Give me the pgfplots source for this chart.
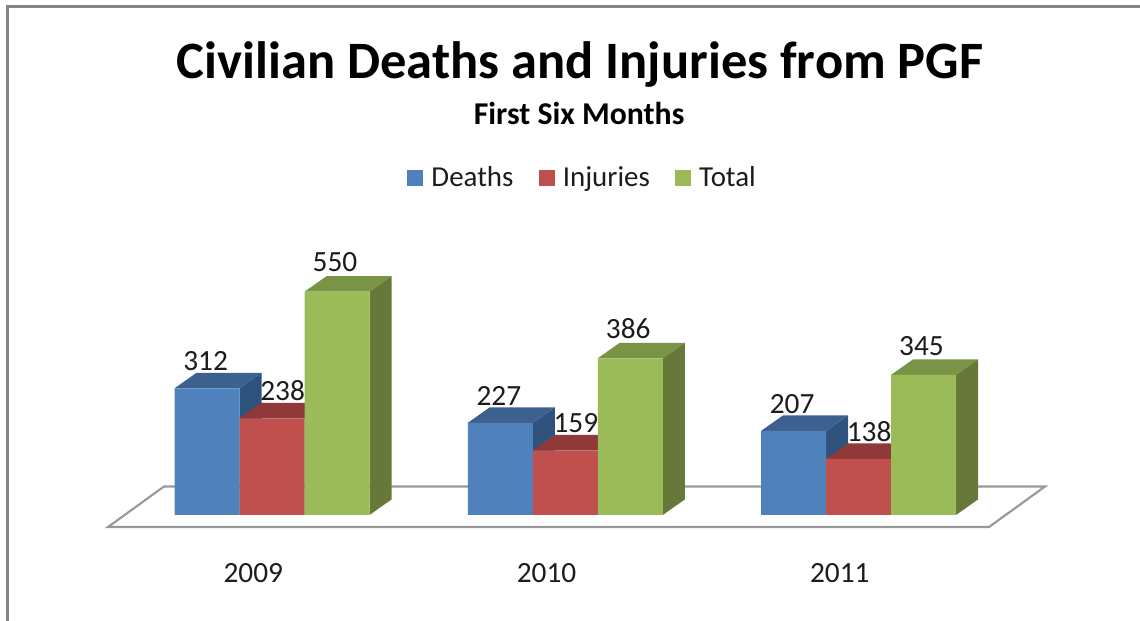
\documentclass[border=0pt]{standalone}
\usepackage{pgfplots}
\usepackage{pgfplotstable}
\usepackage{fontspec}
\setmainfont{Carlito}
\pgfplotsset{compat=1.18}
\definecolor{dfront}{HTML}{4F81BD}\definecolor{dtop}{HTML}{3C618F}\definecolor{dside}{HTML}{30537E}
\definecolor{ifront}{HTML}{C0504D}\definecolor{itop}{HTML}{8F3A38}\definecolor{iside}{HTML}{7F3331}
\definecolor{tfront}{HTML}{9BBB59}\definecolor{ttop}{HTML}{7A9446}\definecolor{tside}{HTML}{66783A}
\definecolor{framegray}{HTML}{858585}\definecolor{floorgray}{HTML}{989898}\definecolor{txt}{HTML}{1C1C1C}
\pgfplotstableread{
x val
0 312
1 227
2 207
}\deaths
\pgfplotstableread{
x val
0 238
1 159
2 138
}\injuries
\pgfplotstableread{
x val
0 550
1 386
2 345
}\totals
\newcommand{\bw}{0.22165}
\newcommand{\dxx}{0.07502}
\newcommand{\dyy}{38.2}
\newcommand{\faces}[4]{%
  \pgfmathsetmacro\xl{#1-\bw/2}\pgfmathsetmacro\xr{#1+\bw/2}%
  \pgfmathsetmacro\xld{\xl+\dxx}\pgfmathsetmacro\xrd{\xr+\dxx}%
  \pgfmathsetmacro\vd{#2+\dyy}\pgfmathsetmacro\vb{\dyy}%
  \addplot[fill=#3,draw=none,forget plot] coordinates {(\xr,0)(\xrd,\vb)(\xrd,\vd)(\xr,#2)} --cycle;
  \addplot[fill=#4,draw=none,forget plot] coordinates {(\xl,#2)(\xr,#2)(\xrd,\vd)(\xld,\vd)} --cycle;
}
\begin{document}
\begin{tikzpicture}
\begin{axis}[
  scale only axis, width=855pt, height=465.75pt,
  xmin=-0.92754, xmax=2.95993, ymin=-261.08, ymax=1268.47,
  clip=false,
  axis line style={draw=none},
  major tick length=0pt,
  ytick=\empty,
  xtick={0,1,2}, xticklabels={2009,2010,2011},
  x tick label style={font=\fontsize{22pt}{24pt}\selectfont, text=txt, anchor=center, yshift=36pt, xshift=-14pt},
  /pgf/number format/assume math mode=true,
  /pgf/number format/1000 sep={},
  bar width=\bw,
  every node near coord/.append style={font=\fontsize{22pt}{24pt}\selectfont, text=txt, anchor=center},
  legend style={draw=none, fill=none, at={(0.5114,0.7135)}, anchor=center, legend columns=3,
    font=\fontsize{21.7pt}{24pt}\selectfont, text=txt, inner sep=0pt,
    /tikz/every even column/.append style={column sep=17pt}},
  legend image code/.code={\fill[#1,draw=none] (0pt,-6pt) rectangle (12pt,6pt); \path[draw=none,fill=none] (0pt,0pt) -- (16pt,0pt);},
  title={\fontsize{39.4pt}{42pt}\selectfont\bfseries Civilian Deaths and Injuries from PGF},
  title style={at={(0.5088,0.884)}, anchor=center, yshift=0pt, text=black},
]
\addlegendimage{fill=dfront}
\addlegendimage{fill=ifront}
\addlegendimage{fill=tfront}
\legend{Deaths,Injuries,Total}
% floor
\addplot[draw=floorgray, line width=1.6pt, forget plot] coordinates {(-0.3683,70.2)(2.636,70.2)(2.445,-29.6)(-0.5592,-29.6)} --cycle;
% deaths
\faces{-0.22165}{312}{dside}{dtop}
\faces{0.77835}{227}{dside}{dtop}
\faces{1.77835}{207}{dside}{dtop}
\addplot[ybar, bar shift=-0.22165, fill=dfront, draw=none, forget plot, nodes near coords,
  every node near coord/.append style={xshift=-49.75pt, yshift=20.5pt}] table[x=x,y=val] {\deaths};
% injuries
\faces{0}{238}{iside}{itop}
\faces{1}{159}{iside}{itop}
\faces{2}{138}{iside}{itop}
\addplot[ybar, bar shift=0, fill=ifront, draw=none, forget plot, nodes near coords,
  every node near coord/.append style={xshift=8pt, yshift=20.5pt}] table[x=x,y=val] {\injuries};
% total
\faces{0.22165}{550}{tside}{ttop}
\faces{1.22165}{386}{tside}{ttop}
\faces{2.22165}{345}{tside}{ttop}
\addplot[ybar, bar shift=0.22165, fill=tfront, draw=none, forget plot, nodes near coords,
  every node near coord/.append style={xshift=47.2pt, yshift=22pt}] table[x=x,y=val] {\totals};
\node[font=\fontsize{23.8pt}{26pt}\selectfont\bfseries, text=black, anchor=center] at (axis description cs:0.508,0.818) {First Six Months};
\end{axis}
\draw[framegray, line width=2.2pt] (5.4pt,0pt) -- (5.4pt,460.6pt) -- (855pt,460.6pt);
\pgfresetboundingbox
\path (0pt,0pt) rectangle (855pt,465.75pt);
\end{tikzpicture}
\end{document}
